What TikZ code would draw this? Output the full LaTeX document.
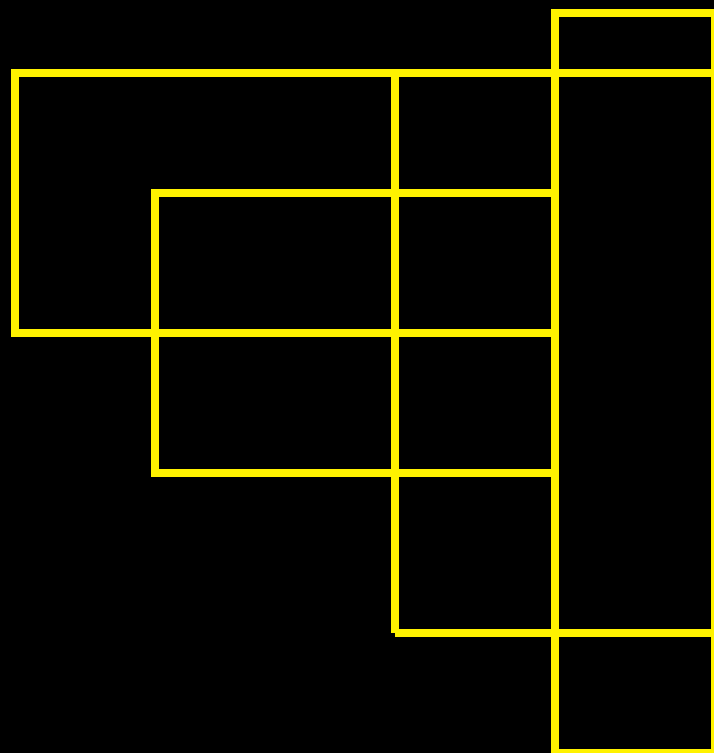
\documentclass[tikz,border=0pt]{standalone}
\begin{document}
\begin{tikzpicture}[x=1pt,y=-1pt,
  yline/.style={draw=yellow,line width=8pt,line cap=butt,line join=miter}]
\useasboundingbox (0,0) rectangle (714,753);
\fill[black] (0,0) rectangle (714,753);
\clip (0,0) rectangle (714,753);
\coordinate (a) at (15,73);
\coordinate (b) at (15,333);
\coordinate (c) at (555,333);
\coordinate (e) at (718,73);
\draw[yline] (e) -- (a) -- (b) -- (c);
\coordinate (f) at (555,193);
\coordinate (g) at (155,193);
\coordinate (h) at (155,473);
\coordinate (i) at (555,473);
\draw[yline] (f) -- (g) -- (h) -- (i);
\coordinate (j) at (395,73);
\coordinate (k) at (395,633);
\coordinate (l) at (718,633);
\draw[yline] (j) -- (k);
\draw[yline] (k) -- (l);
\coordinate (r1) at (555,13);
\coordinate (r2) at (714.5,752.5);
\draw[yline] (r1) rectangle (r2);
\end{tikzpicture}
\end{document}
